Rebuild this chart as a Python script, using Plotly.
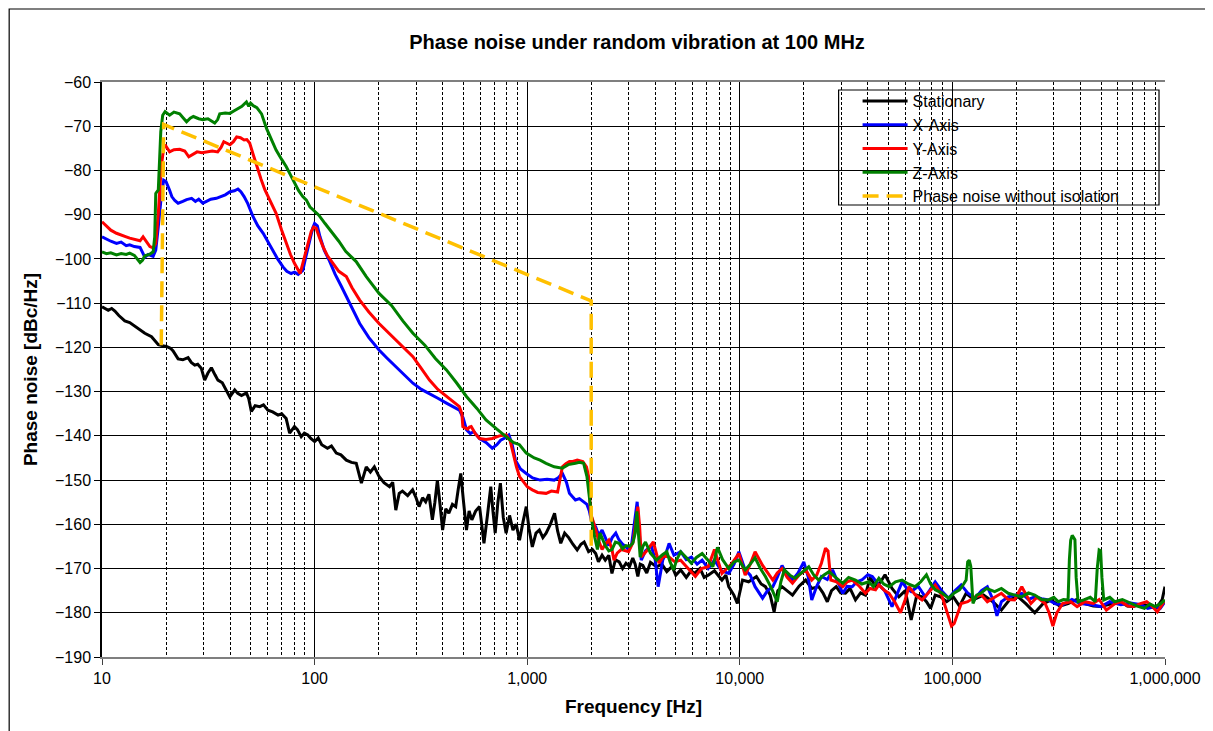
import plotly.graph_objects as go

# ---------------- data (frequency [Hz], phase noise [dBc/Hz]) ----------------
stationary_pts = [
    (10, -110.8), (10.4, -111.2), (10.7, -111.6), (11.1, -111.2), (11.5, -111.8), (12, -112.8),
    (12.8, -114.0), (13.5, -114.4), (14.3, -115.3), (15.1, -116.0), (15.9, -116.8), (17.1, -117.6),
    (18.4, -119.4), (19.2, -119.6), (20.1, -119.8), (21, -120.2), (21.6, -120.8), (22.8, -122.6),
    (24, -122.8), (25.4, -122.3), (26.3, -123.4), (27.3, -124.0), (28.2, -123.8), (29.3, -124.7),
    (30.4, -127.4), (31.5, -125.8), (32.7, -124.6), (34, -126.2), (35.1, -127.4), (36.8, -128.0),
    (38.5, -129.6), (39.9, -131.2), (42.1, -129.6), (43.5, -130.4), (45.3, -130.9), (47.8, -130.3),
    (49, -131.6), (50.4, -134.5), (52.5, -133.2), (55.2, -133.4), (57.5, -133.0), (60.3, -134.2),
    (63.5, -134.6), (67.3, -135.3), (70, -135.0), (73.5, -136.1), (76.3, -139.4), (80.4, -137.9),
    (83, -138.6), (86.5, -140.2), (89.5, -139.4), (92.9, -139.8), (96, -140.6), (100, -141.3),
    (104, -140.5), (108, -142.0), (115, -142.8), (120, -142.3), (126.5, -143.9), (133, -144.3),
    (141, -145.5), (149, -146.0), (157, -146.2), (166, -150.7), (175, -147.0), (183, -148.2),
    (191, -147.0), (201, -149.2), (212, -150.6), (225, -151.5), (233, -150.5), (241, -156.8),
    (250, -153.0), (259, -152.5), (274, -153.5), (289, -152.2), (300, -154.0), (310, -156.0),
    (322, -154.0), (333, -154.9), (345, -153.2), (358, -159.0), (368, -155.0), (378, -150.0),
    (389, -155.5), (400, -161.3), (414, -156.5), (428, -157.5), (445, -155.5), (461, -156.0),
    (474, -152.0), (487, -148.5), (502, -155.0), (518, -161.3), (533, -157.0), (549, -159.0),
    (572, -157.0), (597, -156.0), (611, -160.0), (626, -164.3), (650, -158.0), (674, -151.5),
    (690, -157.0), (707, -162.0), (728, -155.0), (748, -150.7), (772, -158.5), (796, -162.0),
    (826, -158.0), (857, -161.3), (888, -160.0), (920, -163.6), (955, -159.5), (990, -156.0),
    (1020, -161.0), (1057, -165.1), (1100, -162.0), (1141, -161.3), (1185, -163.0), (1227, -162.0),
    (1285, -160.0), (1345, -157.5), (1390, -161.5), (1438, -164.3), (1500, -162.0), (1567, -163.0),
    (1640, -164.5), (1718, -165.8), (1790, -164.5), (1853, -164.0), (1944, -166.2), (2025, -165.7),
    (2100, -166.6), (2163, -168.5), (2250, -167.0), (2329, -168.1), (2420, -167.0), (2504, -171.1),
    (2600, -168.0), (2707, -168.5), (2810, -170.0), (2916, -168.8), (3030, -169.5), (3137, -167.6),
    (3220, -169.0), (3315, -171.8), (3400, -169.0), (3498, -169.3), (3650, -171.0), (3800, -168.6),
    (4060, -169.6), (4300, -169.0), (4535, -170.7), (4800, -169.5), (5000, -171.5), (5270, -170.3),
    (5600, -172.0), (5900, -170.5), (6115, -171.1), (6500, -170.0), (6800, -172.0), (7100, -171.5),
    (7600, -170.5), (8240, -172.6), (8600, -171.5), (8870, -174.1), (9380, -176.0), (9740, -177.9),
    (10300, -172.6), (11000, -173.0), (11970, -171.8), (12600, -173.5), (13200, -174.1), (13900, -176.0),
    (14500, -179.8), (15100, -175.0), (15800, -174.1), (16700, -175.0), (17700, -176.0), (19000, -174.0),
    (20400, -172.6), (21800, -174.5), (23500, -174.1), (24600, -175.5), (25800, -177.5), (27000, -175.0),
    (28400, -174.1), (29800, -175.5), (31400, -175.6), (33000, -174.5), (35000, -177.1), (37000, -175.5),
    (39000, -176.0), (41000, -172.0), (43500, -174.0), (46000, -173.0), (48200, -171.4), (52000, -174.5),
    (56000, -176.4), (60000, -175.0), (64000, -181.6), (68000, -176.0), (72000, -176.4), (75500, -177.5),
    (79000, -179.0), (83000, -176.0), (88000, -176.4), (94000, -177.5), (101000, -176.4), (108000, -178.5),
    (116000, -175.6), (126000, -177.0), (140000, -176.0), (155000, -177.5), (170000, -179.4), (186000, -177.0),
    (204000, -176.4), (222000, -178.0), (244000, -180.0), (266000, -178.0), (292000, -177.1), (320000, -178.5),
    (350000, -177.9), (385000, -177.0), (420000, -177.9), (460000, -178.5), (500000, -178.6), (560000, -178.0),
    (620000, -177.5), (665000, -178.5), (710000, -178.6), (780000, -178.0), (850000, -178.6), (900000, -179.0),
    (940000, -178.0), (970000, -177.0), (1000000, -174.1),
]

x_axis_pts = [
    (10, -95.0), (10.5, -95.6), (11, -96.0), (11.7, -96.5), (12.3, -96.2), (13, -97.0), (13.5, -96.8),
    (14.2, -97.2), (15.1, -97.4), (15.9, -99.6), (16.5, -99.0), (17.4, -99.4), (17.9, -98.0), (18.4, -92.7),
    (19.0, -85.9), (19.5, -82.2), (20, -82.5), (20.8, -84.5), (21.3, -85.9), (22.0, -86.8), (22.8, -87.4),
    (24, -87.0), (25.0, -86.6), (26.4, -86.3), (27.5, -87.0), (28.5, -86.5), (29.8, -87.4), (31, -87.0),
    (32.5, -86.5), (34.5, -86.3), (36.5, -85.8), (38, -85.5), (40, -84.8), (42, -84.6), (43.6, -84.2),
    (45, -84.8), (46.6, -85.9), (48.5, -87.5), (51.3, -90.4), (54, -92.5), (57.3, -94.2), (60, -96.0),
    (63.7, -98.0), (67, -100.0), (71, -101.8), (74, -102.8), (77.6, -103.3), (80.5, -103.0), (83.7, -103.5),
    (86, -103.0), (88, -102.6), (91, -99.5), (95, -95.7), (98, -93.0), (100, -92.0), (103, -92.5),
    (106, -95.0), (111, -98.0), (117.6, -100.5), (125, -103.5), (133, -106.0), (141, -108.5), (152, -111.5),
    (163, -114.6), (180, -117.8), (201, -120.6), (220, -122.5), (241, -124.4), (265, -126.3), (290, -128.1),
    (318, -129.5), (347, -130.4), (380, -131.5), (417, -132.6), (450, -133.5), (480, -134.2), (500, -136.0),
    (518, -138.6), (540, -139.5), (560, -139.0), (597, -140.6), (640, -141.5), (685, -142.8), (720, -142.0),
    (750, -141.0), (785, -140.5), (820, -139.8), (850, -142.0), (880, -145.5), (930, -147.5), (990, -148.5),
    (1060, -149.5), (1150, -150.0), (1240, -149.8), (1340, -150.0), (1400, -149.5), (1464, -148.5),
    (1530, -150.5), (1580, -153.0), (1640, -154.0), (1686, -154.5), (1760, -154.2), (1843, -154.9),
    (1910, -155.5), (1960, -157.0), (2000, -159.0), (2100, -160.6), (2170, -162.5), (2250, -161.3),
    (2330, -163.0), (2420, -164.8), (2510, -163.0), (2610, -162.0), (2700, -163.5), (2810, -164.5),
    (2900, -165.0), (3000, -165.7), (3100, -164.5), (3200, -160.0), (3290, -154.9), (3380, -163.0),
    (3440, -168.1), (3600, -166.0), (3830, -164.8), (4000, -168.0), (4130, -174.1), (4340, -168.1),
    (4500, -166.5), (4650, -164.3), (4900, -167.0), (5270, -166.2), (5600, -168.0), (5920, -167.4),
    (6300, -169.0), (6650, -168.1), (7100, -170.0), (7600, -168.1), (8200, -170.5), (8870, -171.1),
    (9400, -169.0), (9900, -166.2), (10600, -170.3), (11200, -171.5), (11800, -174.1), (12800, -176.7),
    (13500, -175.0), (14300, -174.1), (15000, -172.0), (15800, -169.3), (16700, -171.5), (17700, -172.6),
    (18800, -171.0), (20000, -168.5), (21000, -172.0), (21800, -177.1), (23000, -174.0), (24200, -171.8),
    (25800, -172.5), (27300, -170.3), (29000, -173.0), (30500, -175.6), (32000, -174.0), (33800, -174.1),
    (35500, -173.0), (37500, -172.6), (40000, -171.4), (42000, -171.8), (45100, -173.7), (48000, -175.0),
    (52000, -178.6), (55000, -175.5), (58000, -173.0), (61000, -174.5), (64000, -175.2), (69000, -174.0),
    (74500, -176.4), (78000, -175.0), (83000, -173.0), (89000, -175.0), (96000, -176.7), (103000, -175.0),
    (110000, -173.7), (118000, -175.5), (128000, -176.7), (137000, -175.0), (146000, -174.1), (155000, -177.0),
    (162000, -180.7), (170000, -177.5), (183000, -176.4), (197000, -176.0), (212000, -175.6), (228000, -177.0),
    (244000, -176.4), (263000, -176.8), (283000, -177.1), (305000, -178.0), (330000, -178.2), (365000, -177.0),
    (400000, -177.9), (450000, -178.2), (500000, -178.6), (550000, -177.5), (620000, -178.2), (690000, -177.8),
    (770000, -178.2), (830000, -179.0), (900000, -178.6), (950000, -179.0), (1000000, -177.5),
]

y_axis_pts = [
    (10, -91.6), (10.5, -92.5), (11, -93.5), (11.7, -94.2), (12.3, -94.5), (13, -95.0), (13.5, -95.3),
    (14.2, -95.6), (15.1, -95.9), (15.6, -95.0), (16.2, -96.0), (16.8, -97.2), (17.4, -97.5), (17.9, -96.5),
    (18.4, -89.7), (19.0, -79.1), (19.5, -75.0), (19.8, -74.2), (20.8, -75.8), (21.8, -75.3), (23.2, -75.2),
    (24.5, -75.6), (25.6, -76.9), (27, -76.2), (28, -75.8), (29.5, -76.0), (31, -75.8), (33, -75.6),
    (35, -75.8), (36.3, -74.8), (37.4, -73.5), (38.8, -73.8), (40, -74.2), (41.5, -73.5), (43, -72.4),
    (44.8, -72.6), (46.6, -73.1), (48, -73.0), (49.5, -73.8), (51.5, -76.5), (53.5, -79.1), (56, -82.0),
    (58.4, -84.4), (62, -87.0), (65.9, -89.7), (70, -93.5), (73.5, -96.5), (77, -99.0), (80.4, -101.0),
    (83, -102.3), (85.5, -103.3), (88, -101.0), (91.3, -98.0), (94, -95.5), (96.4, -93.8), (99, -92.8),
    (101.8, -93.1), (105, -95.0), (109.5, -97.2), (115, -99.3), (121.6, -101.0), (130, -102.8), (141, -104.0),
    (150, -106.5), (163, -109.3), (180, -112.0), (201, -114.6), (220, -116.5), (241, -118.3), (265, -120.2),
    (290, -122.1), (318, -124.8), (347, -127.4), (380, -129.5), (417, -131.1), (450, -132.3), (480, -133.4),
    (493, -135.0), (498, -137.9), (510, -138.2), (525, -138.5), (535, -138.0), (545, -137.9), (570, -139.5),
    (597, -140.6), (640, -140.8), (685, -140.6), (740, -140.0), (796, -139.8), (830, -141.0), (857, -143.9),
    (890, -147.0), (920, -149.2), (960, -150.5), (1000, -151.5), (1057, -152.2), (1120, -152.8), (1227, -153.0),
    (1300, -152.5), (1390, -152.7), (1430, -150.0), (1464, -147.0), (1520, -146.3), (1580, -145.8),
    (1638, -145.8), (1720, -145.5), (1826, -145.8), (1900, -147.0), (1944, -149.2), (1985, -157.5),
    (2050, -159.5), (2100, -161.3), (2180, -164.0), (2250, -165.7), (2330, -164.5), (2420, -163.6),
    (2500, -165.5), (2560, -168.1), (2650, -166.5), (2770, -165.7), (2880, -166.0), (3000, -166.2),
    (3150, -164.0), (3250, -158.5), (3315, -156.0), (3380, -160.5), (3440, -167.4), (3650, -166.0),
    (3920, -164.0), (4170, -168.8), (4400, -167.0), (4650, -167.4), (4950, -168.5), (5270, -168.1),
    (5700, -170.0), (6180, -171.8), (6600, -170.0), (7100, -169.6), (7600, -165.7), (8240, -171.1),
    (8700, -170.0), (9200, -168.8), (9900, -166.6), (10600, -171.5), (11200, -169.0), (11800, -166.2),
    (12800, -169.3), (14300, -172.6), (15000, -171.0), (15800, -170.0), (16700, -172.0), (17700, -173.3),
    (19000, -171.5), (20400, -170.3), (21800, -172.6), (23000, -171.5), (24200, -168.8), (25300, -165.4),
    (26000, -166.0), (26800, -172.6), (28500, -173.0), (30500, -174.1), (32000, -173.0), (33800, -172.6),
    (36500, -174.0), (39000, -175.6), (41000, -174.5), (43500, -174.8), (45100, -173.7), (48000, -175.0),
    (50400, -175.6), (53500, -177.5), (57000, -180.0), (60000, -177.0), (62500, -174.1), (67000, -176.0),
    (72000, -177.1), (77000, -175.5), (83000, -173.7), (89000, -176.0), (96000, -181.4), (99000, -183.0),
    (102000, -182.4), (106000, -180.0), (110000, -177.9), (118000, -177.5), (128000, -176.4), (137000, -176.0),
    (146000, -177.5), (158000, -176.5), (170000, -175.6), (183000, -177.0), (196000, -177.1), (212000, -174.1),
    (222000, -176.0), (234000, -177.9), (250000, -176.5), (273000, -177.9), (285000, -180.0), (297000, -183.0),
    (310000, -180.0), (330000, -177.9), (360000, -177.5), (386000, -178.6), (420000, -177.5), (460000, -177.9),
    (490000, -177.0), (530000, -179.4), (580000, -178.0), (620000, -177.5), (670000, -178.5), (710000, -178.6),
    (760000, -178.0), (820000, -177.5), (870000, -178.5), (920000, -179.8), (960000, -178.5), (1000000, -177.1),
]

z_axis_pts = [
    (10, -98.4), (10.5, -98.8), (11, -98.6), (11.7, -99.1), (12.3, -98.8), (13, -99.0), (13.5, -98.7),
    (14.2, -99.2), (15.1, -100.8), (15.5, -100.3), (15.9, -99.3), (16.7, -99.0), (17.4, -98.4), (17.7, -95.0),
    (17.9, -85.2), (18.4, -84.4), (18.9, -71.2), (19.3, -67.5), (19.8, -66.7), (20.8, -67.5), (21.8, -66.8),
    (23.2, -67.2), (24, -68.0), (25, -69.0), (26, -68.2), (26.9, -67.8), (28.5, -68.3), (29.8, -68.5),
    (31.5, -68.3), (33.9, -69.3), (35, -68.5), (35.8, -67.2), (38, -67.0), (39.9, -67.1), (41.5, -66.6),
    (43.6, -66.0), (45.5, -65.5), (47.8, -64.5), (49, -65.5), (50, -64.8), (51.3, -65.3), (53.5, -65.8),
    (56.3, -67.2), (59.4, -70.5), (62.5, -73.0), (65.9, -75.4), (70, -77.5), (73.5, -79.1), (77, -81.0),
    (80.4, -82.9), (84, -84.5), (88, -85.9), (91.5, -86.7), (95, -88.2), (100, -89.3), (104.7, -90.1),
    (112, -92.0), (121.6, -94.2), (130, -96.0), (140, -98.3), (156.9, -100.6), (175, -104.0), (201, -107.8),
    (230, -110.5), (260, -114.0), (290, -116.8), (330, -119.5), (370, -122.5), (417, -125.1), (465, -128.0),
    (518, -131.1), (580, -133.8), (640, -136.4), (720, -138.5), (796, -140.2), (860, -141.5), (920, -142.0),
    (990, -143.9), (1080, -145.0), (1150, -145.5), (1227, -146.2), (1340, -147.0), (1464, -147.3),
    (1560, -146.5), (1686, -146.2), (1760, -146.0), (1843, -146.2), (1910, -149.2), (1985, -156.0),
    (2025, -160.0), (2080, -163.0), (2140, -165.7), (2200, -162.0), (2260, -163.5), (2329, -164.8),
    (2420, -166.0), (2504, -165.7), (2600, -164.0), (2707, -164.3), (2810, -165.5), (2916, -164.8),
    (3030, -165.0), (3137, -164.3), (3220, -162.0), (3280, -157.1), (3340, -162.5), (3400, -167.4),
    (3500, -165.0), (3600, -164.0), (3800, -166.5), (4060, -168.1), (4300, -167.0), (4535, -166.2),
    (4700, -168.5), (4880, -170.3), (5050, -168.0), (5270, -166.2), (5600, -167.5), (5920, -168.8),
    (6250, -167.5), (6650, -166.6), (7050, -168.0), (7470, -169.6), (7850, -165.2), (8300, -168.0),
    (8870, -170.0), (9400, -168.5), (9900, -168.1), (10600, -170.3), (11200, -169.0), (11800, -167.6),
    (12500, -170.0), (13200, -171.8), (14100, -174.5), (15000, -177.5), (15600, -173.0), (16200, -170.3),
    (17200, -171.5), (18200, -172.2), (19500, -171.0), (21100, -169.6), (22300, -171.5), (23500, -172.6),
    (24800, -171.5), (26300, -170.7), (28200, -172.0), (30500, -173.3), (32500, -172.0), (35000, -172.6),
    (37500, -173.5), (40400, -173.0), (42500, -174.1), (45100, -172.2), (47500, -173.5), (50400, -174.1),
    (54000, -173.0), (58000, -172.6), (62000, -173.5), (66700, -174.1), (71000, -173.0), (75500, -171.4),
    (79000, -173.5), (83000, -174.8), (89000, -175.5), (96000, -176.7), (102000, -175.5), (108000, -174.8),
    (113000, -173.5), (116000, -172.6), (118000, -168.5), (120000, -168.1), (122000, -169.5), (125000, -177.9),
    (130000, -176.0), (136000, -175.6), (145000, -174.5), (158000, -175.2), (170000, -174.5), (183000, -175.6),
    (197000, -176.0), (212000, -176.4), (228000, -175.5), (244000, -176.0), (263000, -177.0), (283000, -177.1),
    (300000, -176.5), (315000, -177.5), (333000, -177.0), (350000, -177.1), (355000, -168.0), (360000, -163.6),
    (366000, -162.5), (372000, -163.0), (377000, -163.5), (382000, -172.0), (390000, -177.5), (415000, -177.1),
    (445000, -176.5), (470000, -177.5), (480000, -170.0), (490000, -165.8), (498000, -166.0), (505000, -172.0),
    (515000, -177.1), (550000, -176.5), (580000, -177.5), (630000, -177.0), (690000, -177.9), (740000, -178.5),
    (800000, -179.0), (850000, -178.0), (900000, -178.6), (950000, -178.0), (1000000, -177.1),
]

no_isolation_pts = [(19, -119.5), (19.5, -69.6), (2000, -109.5), (2000, -166.0)]

series_names = ["Stationary", "X-Axis", "Y-Axis", "Z-Axis", "Phase noise without isolation"]
x_tick_vals = [10, 100, 1000, 10000, 100000, 1000000]
x_tick_text = ["10", "100", "1,000", "10,000", "100,000", "1,000,000"]
x_minor_vals = [m * d for d in (10, 100, 1000, 10000, 100000) for m in (2, 3, 4, 5, 6, 7, 8, 9)]
y_tick_vals = list(range(-190, -59, 10))

# ---------------- figure ----------------
FONT = "Arial, 'Liberation Sans', sans-serif"
fig = go.Figure()

def add(pts, name, color, width, dash=None):
    fig.add_trace(go.Scatter(
        x=[p[0] for p in pts], y=[p[1] for p in pts], mode="lines", name=name,
        line=dict(color=color, width=width, dash=dash),
    ))

add(stationary_pts, series_names[0], "#000000", 3)
add(x_axis_pts, series_names[1], "#0000FF", 3)
add(y_axis_pts, series_names[2], "#FF0000", 3)
add(z_axis_pts, series_names[3], "#008000", 3)
add(no_isolation_pts, series_names[4], "#FFC000", 3.5, dash="16px,8px")

# page layout (the page body adds an 8 px offset)
OFF = 8
PAGE_W, PAGE_H = 1213, 731
PLOT_L, PLOT_R, PLOT_T, PLOT_B = 102, 1167, 82, 657
FIG_W, FIG_H = PAGE_W - OFF, PAGE_H - OFF
pw, ph = PLOT_R - PLOT_L, PLOT_B - PLOT_T

def px(xp):
    return (xp - PLOT_L) / pw

def py(yp):
    return (PLOT_B - yp) / ph

fig.update_layout(
    width=FIG_W, height=FIG_H,
    margin=dict(l=PLOT_L - OFF, r=PAGE_W - PLOT_R, t=PLOT_T - OFF, b=PAGE_H - PLOT_B),
    paper_bgcolor="white", plot_bgcolor="white",
    font=dict(family=FONT, color="black", size=16),
    title=dict(text="<b>Phase noise under random vibration at 100 MHz</b>",
               x=(637 - OFF) / FIG_W, xanchor="center",
               y=(PAGE_H - 42) / FIG_H, yanchor="middle",
               font=dict(size=20, family=FONT, color="black")),
    showlegend=True,
    legend=dict(x=px(859), xanchor="left", y=py(84), yanchor="top",
                bgcolor="rgba(0,0,0,0)", borderwidth=0, itemwidth=45,
                font=dict(size=16, family=FONT, color="black"),
                tracegroupgap=0),
    shapes=[
        dict(type="rect", xref="paper", yref="paper", x0=px(840), x1=px(1161), y0=py(205), y1=py(90),
             line=dict(color="black", width=1.2), fillcolor="white", layer="below"),
        dict(type="rect", xref="paper", yref="paper", x0=px(9), x1=px(1210), y0=py(745), y1=py(9),
             line=dict(color="black", width=1.2), fillcolor="rgba(0,0,0,0)", layer="above"),
    ],
)

fig.update_xaxes(
    type="log", range=[1, 6],
    tickmode="array", tickvals=x_tick_vals, ticktext=x_tick_text,
    ticks="outside", ticklen=6, tickcolor="#404040", tickwidth=1,
    showgrid=True, gridcolor="black", gridwidth=1,
    minor=dict(tickmode="array", tickvals=x_minor_vals, showgrid=True,
               gridcolor="black", gridwidth=1, griddash="3px,2px", ticks=""),
    showline=True, linecolor="#7f7f7f", linewidth=1.5, mirror=True,
    zeroline=False,
    tickfont=dict(size=16, family=FONT),
    title=dict(text="<b>Frequency [Hz]</b>", font=dict(size=19, family=FONT), standoff=14),
)
fig.update_yaxes(
    range=[-190, -60], tickmode="array", tickvals=y_tick_vals,
    ticks="outside", ticklen=6, tickcolor="black", tickwidth=1,
    showgrid=True, gridcolor="black", gridwidth=1,
    showline=True, linecolor="black", linewidth=1.5, mirror=False,
    zeroline=False,
    tickfont=dict(size=16, family=FONT),
    title=dict(text="<b>Phase noise [dBc/Hz]</b>", font=dict(size=19, family=FONT), standoff=12),
)

fig.write_html("out.html")
